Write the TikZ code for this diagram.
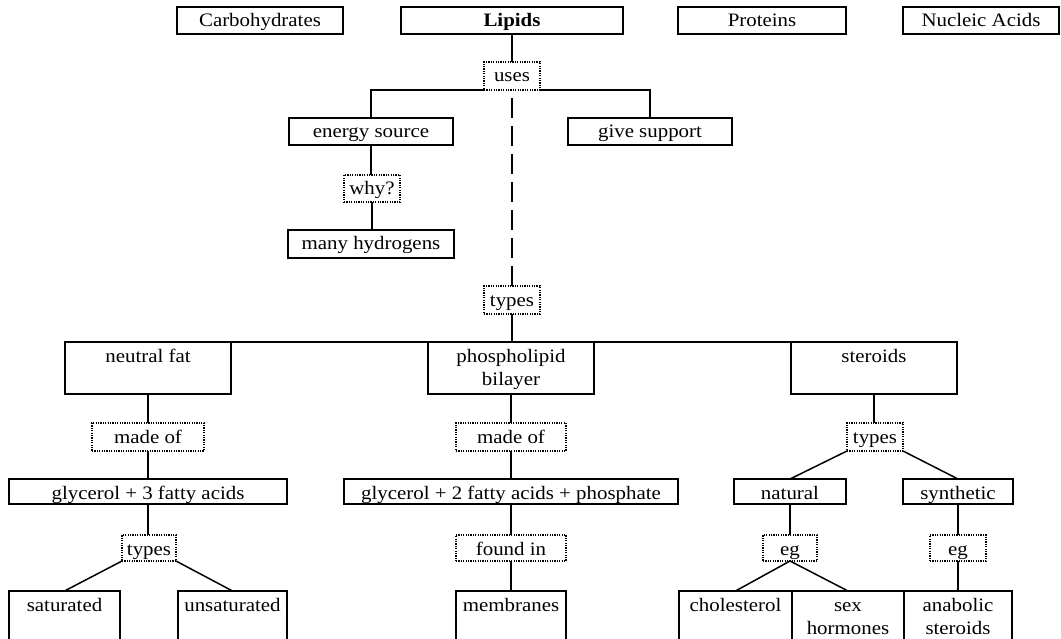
\documentclass[tikz,border=0pt]{standalone}
\usepackage{fontspec}
\setmainfont{Liberation Serif}[FakeStretch=1.1]
\usetikzlibrary{calc}
\tikzset{
  box/.style={draw=black, line width=1.6pt, inner sep=0pt, outer sep=0pt},
  dbox/.style={draw=black, line width=1.2pt, dash pattern=on 1.2pt off 1.2pt, inner sep=0pt, outer sep=0pt},
  txt/.style={font=\fontsize{19}{23}\selectfont, inner sep=0pt, anchor=base},
  conn/.style={line width=1.5pt, draw=black},
  dconn/.style={line width=1.5pt, draw=black, dash pattern=on 20pt off 8pt, dash phase=20pt}
}
% #1 style, #2 name, #3 x1, #4 y1, #5 x2, #6 y2, #7 text
\newcommand{\bx}[7]{%
  \node[#1, minimum width=#5pt-#3pt, minimum height=#6pt-#4pt, anchor=north west] (#2) at (#3,#4) {};
  \node[txt] (#2t) at ($(#2.north)+(0,20)$) {#7};}
\begin{document}
\begin{tikzpicture}[x=1pt, y=-1pt]
\path[use as bounding box, clip] (0,0) rectangle (1061,639);
% top row
\bx{box}{carb}{177}{7}{343}{34}{Carbohydrates}
\bx{box}{lipids}{401}{7}{623}{34}{\bfseries Lipids}
\bx{box}{prot}{678}{7}{846}{34}{Proteins}
\bx{box}{nucl}{903}{7}{1059}{34}{Nucleic Acids}
% uses branch
\bx{dbox}{uses}{484}{62}{540}{90}{uses}
\bx{box}{energy}{289}{118}{453}{145}{energy source}
\bx{box}{support}{568}{118}{732}{145}{give support}
\bx{dbox}{why}{344}{175}{400}{202}{why?}
\bx{box}{hyd}{288}{230}{454}{258}{many hydrogens}
% types
\bx{dbox}{typesa}{484}{286}{540}{314}{types}
\bx{box}{neutral}{65}{342}{231}{394}{neutral fat}
\bx{box}{phospho}{428}{342}{594}{394}{phospholipid}
\node[txt] (phosphob) at ($(phospho.north)+(0,43)$) {bilayer};
\bx{box}{steroids}{791}{342}{957}{394}{steroids}
\bx{dbox}{madea}{92}{423}{204}{451}{made of}
\bx{dbox}{madeb}{456}{423}{566}{451}{made of}
\bx{dbox}{typesc}{847}{423}{903}{451}{types}
\bx{box}{glyca}{9}{479}{287}{504}{glycerol + 3 fatty acids}
\bx{box}{glycb}{344}{479}{678}{504}{glycerol + 2 fatty acids + phosphate}
\bx{box}{natural}{734}{479}{846}{504}{natural}
\bx{box}{synth}{903}{479}{1013}{504}{synthetic}
\bx{dbox}{typesb}{122}{535}{176}{561}{types}
\bx{dbox}{found}{456}{535}{566}{561}{found in}
\bx{dbox}{ega}{763}{535}{817}{561}{eg}
\bx{dbox}{egb}{930}{535}{986}{561}{eg}
\bx{box}{sat}{9}{591}{120}{660}{saturated}
\bx{box}{unsat}{178}{591}{287}{660}{unsaturated}
\bx{box}{membr}{456}{591}{566}{660}{membranes}
\bx{box}{chol}{679}{591}{792}{660}{cholesterol}
\bx{box}{sex}{792}{591}{904}{660}{sex}
\node[txt] (sexb) at ($(sex.north)+(0,43)$) {hormones};
\bx{box}{anab}{904}{591}{1012}{660}{anabolic}
\node[txt] (anabb) at ($(anab.north)+(0,43)$) {steroids};
% connectors
\draw[conn] (lipids.south) -- (lipids.south |- uses.north);
\draw[conn] (uses.south west) -| (energy.north);
\draw[conn] (uses.south east) -| (support.north);
\draw[dconn] (uses.south) -- (uses.south |- typesa.north);
\draw[conn] (energy.south) -- (energy.south |- why.north);
\draw[conn] (why.south) -- (why.south |- hyd.north);
\draw[conn] (typesa.south) -- (typesa.south |- phospho.north);
\draw[conn] (neutral.north east) -- (steroids.north west);
\draw[conn] (neutral.south) -- (neutral.south |- madea.north);
\draw[conn] (madea.south) -- (madea.south |- glyca.north);
\draw[conn] (glyca.south) -- (glyca.south |- typesb.north);
\draw[conn] (typesb.south west) -- (sat.north);
\draw[conn] (typesb.south east) -- (unsat.north);
\draw[conn] (phospho.south) -- (phospho.south |- madeb.north);
\draw[conn] (madeb.south) -- (madeb.south |- glycb.north);
\draw[conn] (glycb.south) -- (glycb.south |- found.north);
\draw[conn] (found.south) -- (found.south |- membr.north);
\draw[conn] (steroids.south) -- (steroids.south |- typesc.north);
\draw[conn] (typesc.south west) -- (natural.north);
\draw[conn] (typesc.south east) -- (synth.north);
\draw[conn] (natural.south) -- (natural.south |- ega.north);
\draw[conn] (ega.south) -- (chol.north);
\draw[conn] (ega.south) -- (sex.north);
\draw[conn] (synth.south) -- (synth.south |- egb.north);
\draw[conn] (egb.south) -- (egb.south |- anab.north);
\end{tikzpicture}
\end{document}
